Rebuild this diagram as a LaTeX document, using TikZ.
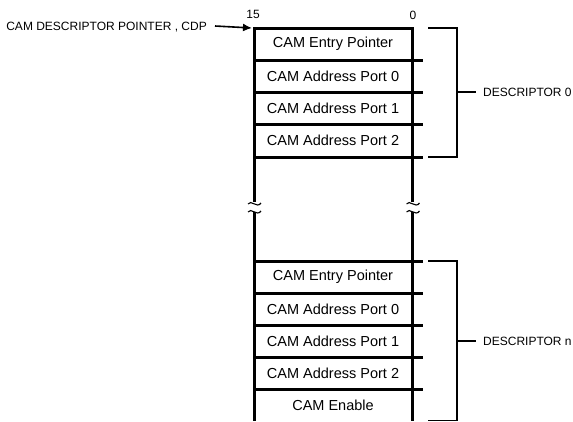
\documentclass[tikz,border=0pt]{standalone}
\usepackage{fontspec}
\setmainfont{Liberation Sans}
\usepackage{tikz}
\usetikzlibrary{arrows.meta, positioning}

\begin{document}
\begin{tikzpicture}[x=1pt, y=-1pt,
    cell/.style={minimum width=158pt, minimum height=32pt, inner sep=0pt, font=\fontsize{14.5}{16}\selectfont},
    note/.style={inner sep=0pt, font=\fontsize{12}{14}\selectfont},
    wall/.style={line width=3pt},
    brace/.style={line width=1.6pt},
    wave/.style={line width=1.1pt},
]
\useasboundingbox (0,0) rectangle (573,421);
% first descriptor
\node[cell] (entry0) at (333,44) {CAM Entry Pointer};
\node[cell] (port00) at (333,76) {CAM Address Port 0};
\node[cell] (port10) at (333,108) {CAM Address Port 1};
\node[cell] (port20) at (333,140.5) {CAM Address Port 2};
% last descriptor
\node[cell] (entryn) at (333,277) {CAM Entry Pointer};
\node[cell] (port0n) at (333,309) {CAM Address Port 0};
\node[cell] (port1n) at (333,341) {CAM Address Port 1};
\node[cell] (port2n) at (333,373) {CAM Address Port 2};
\node[cell] (enablen) at (333,405) {CAM Enable};
% walls with breaks
\draw[wall] (254,202) -- (254,28) -- (412.5,28) -- (412.5,202);
\draw[wall] (254,212) -- (254,421);
\draw[wall] (412.5,212) -- (412.5,421);
\draw[wave] (248,204) .. controls (251,199) and (257,209) .. (261,203);
\draw[wave] (248,212) .. controls (251,207) and (257,217) .. (261,211);
\draw[wave] (406.5,204) .. controls (409.5,199) and (415.5,209) .. (419.5,203);
\draw[wave] (406.5,212) .. controls (409.5,207) and (415.5,217) .. (419.5,211);
% dividers
\draw[wall] (254,60) -- (423,60);
\draw[wall] (254,92) -- (423,92);
\draw[wall] (254,124) -- (423,124);
\draw[wall] (254,157) -- (423,157);
\draw[wall] (254,261) -- (423,261);
\draw[wall] (254,293) -- (423,293);
\draw[wall] (254,325) -- (423,325);
\draw[wall] (254,357) -- (423,357);
\draw[wall] (254,389) -- (423,389);
% bit numbers
\node[note] (msb) at (253,14) {15};
\node[note] (lsb) at (413,15) {0};
% pointer
\node[note, anchor=east] (cdp) at (207,27) {CAM DESCRIPTOR POINTER , CDP};
\coordinate (cdptip) at (252,28);
\draw[brace, -{Latex[length=9pt, width=8pt]}] (cdp.east) ++(8pt,1pt) -- (cdptip);
% brackets
\draw[brace] (428,28) -- (457,28) -- (457,157) -- (428,157);
\draw[brace] (457,92) -- (476,92);
\node[note, anchor=west] (desc0) at (483,92) {DESCRIPTOR 0};
\draw[brace] (428,261) -- (457,261) -- (457,420.5) -- (428,420.5);
\draw[brace] (457,341) -- (476,341);
\node[note, anchor=west] (descn) at (483,341) {DESCRIPTOR n};
\end{tikzpicture}
\end{document}
